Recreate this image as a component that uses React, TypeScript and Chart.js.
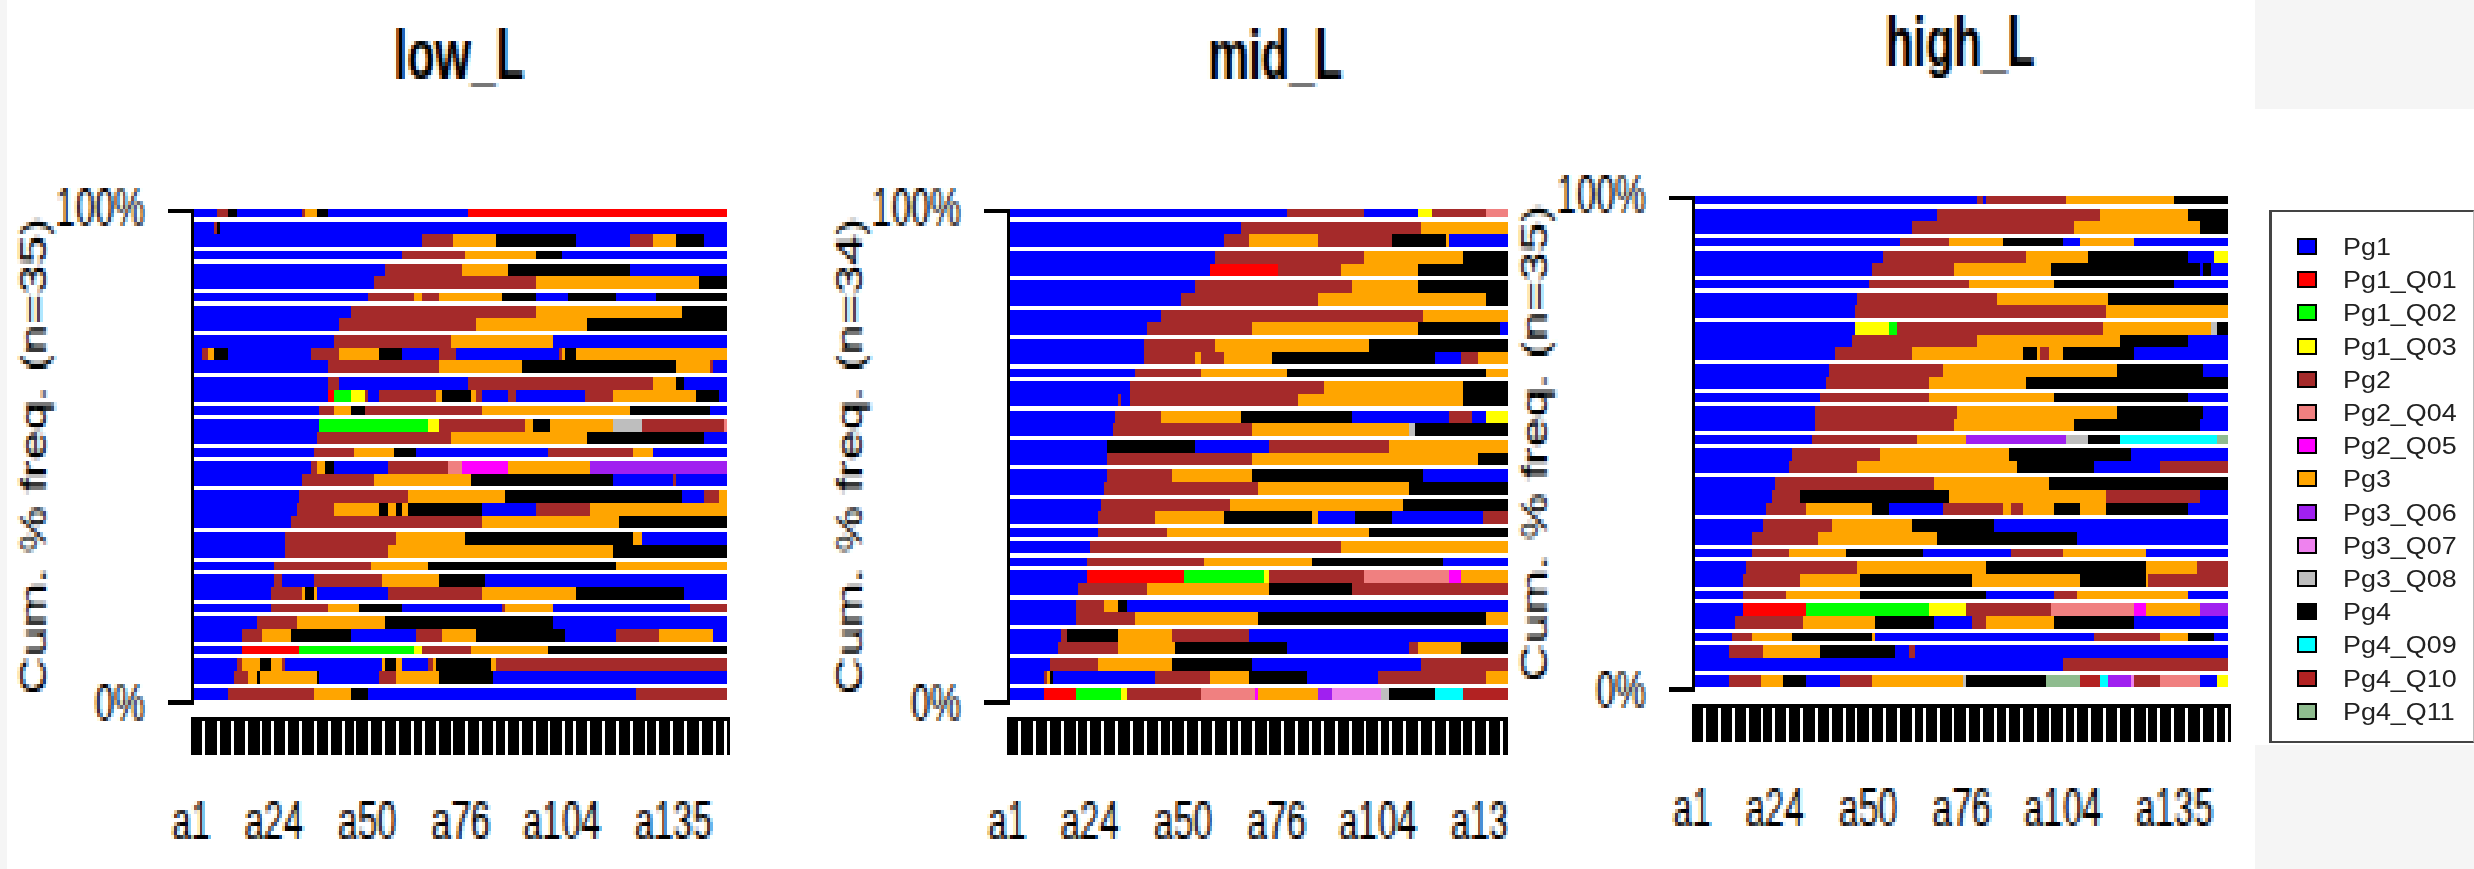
import React, { useEffect, useRef } from "react";
import { Chart, registerables } from "chart.js";

Chart.register(...registerables);

// ---- states ----
const stateKeys = ["B", "R", "G", "Y", "M", "S", "F", "O", "P", "V", "A", "K", "C", "D", "E"];
const stateNames = ["Pg1", "Pg1_Q01", "Pg1_Q02", "Pg1_Q03", "Pg2", "Pg2_Q04", "Pg2_Q05", "Pg3", "Pg3_Q06", "Pg3_Q07", "Pg3_Q08", "Pg4", "Pg4_Q09", "Pg4_Q10", "Pg4_Q11"];
const stateColors = ["#0000FF", "#FF0000", "#00FF00", "#FFFF00", "#A52A2A", "#F08080", "#FF00FF", "#FFA500", "#A020F0", "#EE82EE", "#BEBEBE", "#000000", "#00FFFF", "#B22222", "#8FBC8F"];

// ---- x axis ----
const positionCount = 149;
const xLabels = ["a1", "a24", "a50", "a76", "a104", "a135"];
const yLabels = ["100%", "0%"];

// ---- sequences: each token is a state letter and the position at which that state's run ends ----
const lowRuns = [
  "B7 M10 K13 B31 M32 O35 K38 B77 R149",
  "B6 M7 K8 B149",
  "B64 M73 O85 K107 B122 M128 O135 K143 B149",
  "B59 M76 O96 K103 B149",
  "B54 M75 O88 K122 B149",
  "B51 M96 O141 K149",
  "B49 M62 O64 M69 O86 K96 B105 K118 B129 K149",
  "B44 M96 O136 K149",
  "B41 M79 O110 K149",
  "B40 M72 O101 B149",
  "B3 M5 O6 K10 B33 M41 O52 K59 B69 M74 B102 M103 O104 K107 O149",
  "B38 M69 O92 K135 O144 M145 B149",
  "B38 M41 B77 M128 O135 K137 B149",
  "B38 R40 G44 Y48 M49 B52 M68 O70 K78 O79 M81 B88 M90 B109 M117 O140 K147 B149",
  "B36 M40 O44 K48 M81 O122 K144 B149",
  "B36 G66 Y69 M93 O95 K100 O117 A125 M148 S149",
  "B35 M72 O110 K143 B149",
  "B34 M45 O56 K63 B99 M123 O128 B149",
  "B33 M35 O37 K40 B55 M71 S75 F88 O111 P149",
  "B31 M51 O78 K117 B134 M135 B149",
  "B30 M60 O87 K136 B143 M147 O149",
  "B29 M40 O52 K55 O57 K59 O60 K81 B96 M111 O149",
  "B28 M81 O119 K149",
  "B26 M57 O76 K123 O125 B149",
  "B26 M55 O117 K149",
  "B23 M50 O66 K118 O149",
  "B23 M25 B34 M53 O69 K82 B149",
  "B22 M31 O32 K34 O35 B55 M81 O107 K137 B149",
  "B22 M38 O47 K59 B86 M87 O101 B139 M149",
  "B18 M29 O54 K101 B149",
  "B14 M20 O28 K44 B63 M70 O79 K104 B118 M130 O145 B149",
  "B14 R30 G62 Y64 M78 O99 K149",
  "B13 M14 O19 K22 O25 M26 B53 O54 K57 O59 B66 M67 O68 K83 O85 M149",
  "B12 M16 O18 K19 O35 K36 B52 M57 O69 K84 B149",
  "B10 M34 O44 K49 B124 M149",
];

const midRuns = [
  "B78 M99 B114 Y118 M133 S149",
  "B65 M115 O149",
  "B60 M67 O86 M107 K122 O123 B149",
  "B58 M99 O127 K149",
  "B56 R75 M93 O114 K149",
  "B52 M96 O114 K149",
  "B48 M86 O133 K149",
  "B43 M116 O149",
  "B39 M68 O114 K137 B149",
  "B38 M58 O101 K149",
  "B38 M52 O54 M60 O74 K119 B126 M131 O149",
  "B36 M54 O78 K133 O149",
  "B34 M88 O127 K149",
  "B31 M32 B34 M81 O127 K149",
  "B30 M43 O65 K96 B123 M129 B133 Y149",
  "B29 M68 O112 A113 K149",
  "B28 K52 B73 M106 O149",
  "B28 M68 O131 K149",
  "B28 M46 O68 K116 B149",
  "B27 M70 O112 K149",
  "B26 M62 O110 K149",
  "B25 M41 O60 K85 O86 B97 K107 B132 M149",
  "B25 M44 O101 K149",
  "B23 M93 O149",
  "B22 M55 O85 K121 B149",
  "B22 R49 G71 Y73 M99 S123 F126 O149",
  "B20 M39 O73 K96 M149",
  "B19 M27 O31 K33 B149",
  "B19 M36 O70 K133 O149",
  "B15 M17 K31 O46 M67 B149",
  "B14 M31 O47 K78 B112 M114 O126 K149",
  "B12 M25 O46 K68 B115 M149",
  "B10 M11 O12 K13 B41 M56 O67 K83 B103 M133 O149",
  "B10 R19 G32 Y33 M54 S69 F70 O86 P90 V104 A106 K119 C127 D149",
];

const highRuns = [
  "B79 M81 B82 M104 O134 K149",
  "B68 M113 O138 K149",
  "B61 M106 O141 K149",
  "B58 M71 O86 K103 B108 O123 B149",
  "B53 M93 O110 K138 B145 Y149",
  "B50 M73 O100 K141 B142 K144 B149",
  "B49 M77 O101 K134 B149",
  "B46 M85 O116 K149",
  "B45 M115 O149",
  "B45 Y55 G57 M114 O144 A146 K149",
  "B44 M79 O119 K138 B149",
  "B40 M61 O92 K96 O97 M99 O103 K123 B149",
  "B38 M70 O118 K142 B149",
  "B37 M66 O93 K149",
  "B36 M66 O101 K138 B149",
  "B34 M74 O118 K142 B149",
  "B34 M73 O106 K141 B149",
  "B33 M63 O76 P104 A110 K119 C146 E149",
  "B28 M52 O88 K122 B149",
  "B27 M46 O90 K112 B130 M149",
  "B23 M67 O99 K149",
  "B22 M30 K71 O115 M141 B149",
  "B21 M32 O50 K55 B70 M86 O89 M92 O101 K108 O115 K138 B149",
  "B20 M39 O61 K84 B149",
  "B17 M35 O68 K107 B149",
  "B17 M27 O43 K64 B89 M103 O126 B149",
  "B15 M46 O82 K126 O140 M149",
  "B14 M30 O47 K78 O108 K126 O127 M149",
  "B14 M26 O47 K82 B101 M107 O138 B149",
  "B14 R32 G66 Y76 M100 S123 F126 O141 P149",
  "B12 M31 O51 K67 B78 M82 O101 K123 B149",
  "B11 M17 O28 K50 O51 B112 M130 O138 K145 B149",
  "B10 M20 O36 K56 B60 M62 B149",
  "B103 M149",
  "B10 M19 O25 K32 B41 M50 O75 A76 K98 E108 D113 C116 P122 V123 M130 S141 B146 Y149",
];

// ---- rendering set-up: the chart is drawn on a coarse raster that is then enlarged, as in the reference ----
const SX = 2.85;
const SY = 4.2;
const CANVAS_W = 270;
const CANVAS_H = 210;
const FONT = "'Liberation Sans', Arial, sans-serif";

type PanelCfg = { title: string; runs: string[]; left: number; top: number; crop: number; clip: number; fill: number };
const panels: PanelCfg[] = [
  { title: "low_L", runs: lowRuns, left: 0, top: -1, crop: 0, clip: 800, fill: 0.8393 },
  { title: "mid_L", runs: midRuns, left: 816, top: -1, crop: 0, clip: 692, fill: 0.83 },
  { title: "high_L", runs: highRuns, left: 1501, top: -14, crop: 8, clip: 792, fill: 0.8393 },
];

function buildDatasets(runs: string[]) {
  const perState: { x: [number, number]; y: number }[][] = stateKeys.map(() => []);
  runs.forEach((row, rowIndex) => {
    let start = 0;
    row.split(" ").forEach((tok) => {
      const s = stateKeys.indexOf(tok[0]);
      const end = Number(tok.slice(1));
      perState[s].push({ x: [start, end], y: rowIndex });
      start = end;
    });
  });
  return perState.map((data, i) => ({
    label: stateNames[i],
    data,
    backgroundColor: stateColors[i],
    borderWidth: 0,
    grouped: false,
    clip: false as any,
  }));
}

const whiteBackground = {
  id: "whiteBackground",
  beforeDraw(chart: any) {
    const { ctx, width, height } = chart;
    ctx.save();
    ctx.fillStyle = "#fff";
    ctx.fillRect(0, 0, width, height);
    ctx.restore();
  },
};

// moves the x axis clear of the plot, as R's axis() does
const axisGap = {
  id: "axisGap",
  afterLayout(chart: any) {
    const sc = chart.scales.x;
    const dy = 171 - sc.top;
    sc.top += dy;
    sc.bottom += dy;
  },
};

// snaps every bar to the coarse raster
const snapBars = {
  id: "snapBars",
  afterDatasetsUpdate(chart: any) {
    const right = chart.chartArea.right;
    chart.getSortedVisibleDatasetMetas().forEach((meta: any) => {
      meta.data.forEach((el: any) => {
        const t = Math.floor(el.y - el.height / 2 + 0.001);
        const b = Math.floor(el.y + el.height / 2 + 0.001);
        el.y = (t + b) / 2;
        el.height = b - t;
        el.x = Math.min(Math.round(el.x), right);
        el.base = Math.round(el.base);
      });
    });
  },
};

function makeChart(canvas: HTMLCanvasElement, cfg: PanelCfg) {
  const n = cfg.runs.length;
  const yMin = -cfg.fill / 2;
  const yMax = n - cfg.fill / 2;
  const xTickMap = new Map(xLabels.map((l) => [Number(l.slice(1)) - 1, l]));
  canvas.getContext("2d", { alpha: false });
  return new Chart(canvas, {
    type: "bar",
    data: { datasets: buildDatasets(cfg.runs) as any },
    plugins: [whiteBackground, axisGap, snapBars],
    options: {
      indexAxis: "y",
      responsive: false,
      animation: false,
      devicePixelRatio: 1,
      events: [],
      layout: { padding: { left: 0, top: 0, bottom: 0, right: 15 } },
      datasets: { bar: { barPercentage: cfg.fill, categoryPercentage: 1 } },
      plugins: {
        legend: { display: false },
        tooltip: { enabled: false },
        title: {
          display: true,
          text: cfg.title,
          color: "#000",
          fullSize: false,
          font: { family: FONT, size: 16, weight: "bold" },
          padding: { top: 5, bottom: 25.8 },
        },
      },
      scales: {
        x: {
          type: "linear",
          position: "bottom",
          min: 0,
          max: positionCount,
          bounds: "data",
          offset: false,
          afterBuildTicks(sc: any) {
            const t = [];
            for (let i = 0; i <= positionCount; i++) t.push({ value: i });
            sc.ticks = t;
          },
          afterFit(sc: any) {
            sc.height = 42.4;
          },
          grid: { display: true, offset: false, drawOnChartArea: false, drawTicks: true, tickLength: 9, tickWidth: 1, tickColor: "#000" },
          border: { display: true, color: "#000", width: 1 },
          ticks: {
            autoSkip: false,
            maxRotation: 0,
            minRotation: 0,
            color: "#000",
            padding: 9,
            font: { family: FONT, size: 12.3 },
            callback: (v: any) => xTickMap.get(Number(v)) ?? "",
          },
        },
        y: {
          type: "linear",
          position: "left",
          reverse: true,
          offset: false,
          min: yMin,
          max: yMax,
          bounds: "data",
          afterBuildTicks(sc: any) {
            sc.ticks = [{ value: yMin }, { value: yMax }];
          },
          afterFit(sc: any) {
            sc.width = 67;
          },
          grid: { display: true, offset: false, drawOnChartArea: false, drawTicks: true, tickLength: 8, tickWidth: 1, tickColor: "#000" },
          border: { display: true, color: "#000", width: 1 },
          title: {
            display: true,
            text: `Cum. % freq. (n=${n})`,
            color: "#000",
            font: { family: FONT, size: 12.6 },
            padding: { top: 5, bottom: 0 },
          },
          ticks: {
            autoSkip: false,
            color: "#000",
            padding: 8,
            labelOffset: 1,
            font: { family: FONT, size: 12.3 },
            callback: (v: any) => (Number(v) === yMin ? yLabels[0] : yLabels[1]),
          },
        },
      },
    } as any,
  });
}

export default function App() {
  const refs = useRef<(HTMLCanvasElement | null)[]>([]);
  useEffect(() => {
    const charts = panels.map((p, i) => makeChart(refs.current[i] as HTMLCanvasElement, p));
    return () => charts.forEach((c) => c.destroy());
  }, []);

  const gray = "#f5f5f5";
  return (
    <div style={{ position: "absolute", left: 0, top: 0, width: 2474, height: 869, overflow: "hidden", background: "#fff" }}>
      {panels.map((p, i) => (
        <div key={p.title} style={{ position: "absolute", left: p.left + p.crop, top: p.top, width: p.clip - p.crop, height: CANVAS_H * SY, overflow: "hidden" }}>
          <canvas
            ref={(el) => {
              refs.current[i] = el;
            }}
            width={CANVAS_W}
            height={CANVAS_H}
            style={{ display: "block", marginLeft: -p.crop, width: CANVAS_W * SX, height: CANVAS_H * SY, imageRendering: "pixelated" }}
          />
        </div>
      ))}
      <div style={{ position: "absolute", left: 0, top: 0, width: 7, height: 869, background: gray }} />
      <div style={{ position: "absolute", left: 2255, top: 0, width: 219, height: 109, background: gray }} />
      <div style={{ position: "absolute", left: 2255, top: 745, width: 219, height: 124, background: gray }} />
      <div
        style={{
          position: "absolute",
          left: 2269,
          top: 210,
          width: 205,
          height: 533,
          boxSizing: "border-box",
          background: "#fff",
          borderLeft: "3px solid #444",
          borderTop: "2px solid #444",
          borderBottom: "2px solid #444",
          borderRight: "1px solid #bbb",
        }}
      >
        {stateNames.map((name, i) => (
          <div key={name} style={{ position: "absolute", left: 0, top: 21 + i * 33.2, height: 28, width: 200, filter: "blur(0.6px)" }}>
            <span style={{ position: "absolute", left: 25, top: 5, width: 20, height: 17, boxSizing: "border-box", border: "2px solid #000", background: stateColors[i] }} />
            <span
              style={{
                position: "absolute",
                left: 71,
                top: 0,
                fontFamily: FONT,
                fontSize: 24,
                lineHeight: "28px",
                color: "#222",
                transform: "scaleX(1.12)",
                transformOrigin: "0 0",
                whiteSpace: "nowrap",
              }}
            >
              {name}
            </span>
          </div>
        ))}
      </div>
    </div>
  );
}
